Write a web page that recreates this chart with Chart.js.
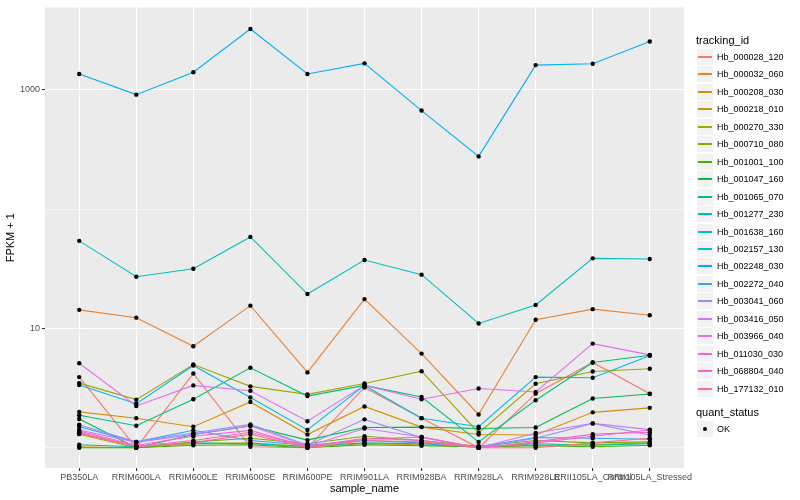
<!DOCTYPE html>
<html>
<head>
<meta charset="utf-8">
<script src="https://cdn.jsdelivr.net/npm/chart.js@4/dist/chart.umd.min.js"></script>
<style>
  body { margin: 0; background: #fff; font-family: "Liberation Sans", Arial, sans-serif; }
  #wrap { position: relative; width: 800px; height: 500px; }
  #chart { position: absolute; left: 0; top: 0; }
  #legend { position: absolute; left: 0; top: 0; width: 800px; height: 500px; color: #000; }
  .ltitle { position: absolute; left: 696px; font-size: 11px; line-height: 14px; }
  .key { position: absolute; left: 697px; width: 16px; height: 16px; background: #F2F2F2; }
  .key .ln { position: absolute; left: 1px; width: 14px; top: 7px; height: 2px; }
  .key .pt { position: absolute; left: 6px; top: 6px; width: 4px; height: 4px; border-radius: 2px; background: #000; }
  .lab { position: absolute; left: 717px; font-size: 9px; line-height: 12px; }
</style>
</head>
<body>
<div id="wrap">
  <canvas id="chart" width="800" height="500"></canvas>
  <div id="legend"></div>
</div>
<script>
document.addEventListener('DOMContentLoaded', function() {
    const samples = ['PB350LA', 'RRIM600LA', 'RRIM600LE', 'RRIM600SE', 'RRIM600PE', 'RRIM901LA',
        'RRIM928BA', 'RRIM928LA', 'RRIM928LE', 'RRII105LA_Control', 'RRII105LA_Stressed'];

    const trackingIds = ['Hb_000028_120', 'Hb_000032_060', 'Hb_000208_030', 'Hb_000218_010', 'Hb_000270_330',
        'Hb_000710_080', 'Hb_001001_100', 'Hb_001047_160', 'Hb_001065_070', 'Hb_001277_230',
        'Hb_001638_160', 'Hb_002157_130', 'Hb_002248_030', 'Hb_002272_040', 'Hb_003041_060',
        'Hb_003416_050', 'Hb_003966_040', 'Hb_011030_030', 'Hb_068804_040', 'Hb_177132_010'];

    const colors = ['#F8766D', '#EA8331', '#D89000', '#C09B00', '#A3A500', '#7CAE00', '#39B600', '#00BB4E',
        '#00BF7D', '#00C1A3', '#00BFC4', '#00BAE0', '#00B0F6', '#35A2FF', '#9590FF', '#C77CFF',
        '#E76BF3', '#FA62DB', '#FF62BC', '#FF6C91'];

    // FPKM + 1, one array per tracking_id, in sample order
    const hb000028 = [3.91, 1.0, 4.19, 1.02, 1.0, 3.2, 1.77, 1.0, 2.84, 5.18, 2.84];
    const hb000032 = [14.3, 12.3, 7.08, 15.5, 4.28, 17.6, 6.15, 1.9, 11.8, 14.5, 12.9];
    const hb000208 = [2.0, 1.77, 1.5, 2.42, 1.29, 2.22, 1.49, 1.29, 1.28, 1.98, 2.16];
    const hb000218 = [1.02, 1.0, 1.08, 1.1, 1.02, 1.08, 1.06, 1.01, 1.05, 1.06, 1.1];
    const hb000270 = [3.48, 2.53, 4.98, 3.27, 2.8, 3.46, 4.38, 1.33, 3.44, 4.36, 4.59];
    const hb000710 = [1.3, 1.0, 1.12, 1.2, 1.08, 1.25, 1.15, 1.03, 1.15, 1.1, 1.12];
    const hb001001 = [1.0, 1.0, 1.05, 1.06, 1.0, 1.06, 1.04, 1.02, 1.04, 1.02, 1.05];
    const hb001047 = [1.74, 1.0, 1.29, 1.52, 1.16, 1.48, 1.49, 1.45, 1.48, 2.59, 2.82];
    const hb001065 = [1.87, 1.53, 2.55, 4.68, 2.71, 3.33, 2.66, 1.12, 2.5, 5.18, 5.96];
    const hb001277 = [1.06, 1.02, 1.1, 1.08, 1.03, 1.1, 1.08, 1.02, 1.08, 1.05, 1.08];
    const hb001638 = [54.1, 27.1, 31.6, 58.4, 19.4, 37.4, 28.2, 11.0, 15.7, 38.6, 38.1];
    const hb002157 = [3.35, 2.34, 4.89, 2.64, 1.41, 3.33, 1.77, 1.5, 3.91, 3.86, 5.89];
    const hb002248 = [1352, 908, 1397, 3222, 1352, 1660, 668, 276, 1605, 1646, 2531];
    const hb002272 = [1.5, 1.12, 1.4, 1.15, 1.05, 1.15, 1.1, 1.02, 1.22, 1.2, 1.18];
    const hb003041 = [1.56, 1.12, 1.33, 1.57, 1.05, 1.73, 1.22, 1.0, 1.2, 1.6, 1.28];
    const hb003416 = [1.41, 1.11, 1.3, 1.53, 1.03, 1.45, 1.23, 1.0, 1.33, 1.6, 1.42];
    const hb003966 = [5.11, 2.24, 3.33, 3.0, 1.67, 3.33, 2.55, 3.14, 2.93, 7.46, 6.0];
    const hb011030 = [1.38, 1.05, 1.25, 1.4, 1.02, 1.2, 1.15, 1.0, 1.12, 1.3, 1.35];
    const hb068804 = [1.35, 1.03, 1.15, 1.35, 1.03, 1.18, 1.23, 1.0, 1.1, 1.25, 1.41];
    const hb177132 = [1.32, 1.02, 1.1, 1.3, 1.0, 1.15, 1.12, 1.0, 1.0, 1.1, 1.2];

    const seriesValues = [hb000028, hb000032, hb000208, hb000218, hb000270, hb000710, hb001001, hb001047,
        hb001065, hb001277, hb001638, hb002157, hb002248, hb002272, hb003041, hb003416,
        hb003966, hb011030, hb068804, hb177132];

    const yTicks = [1, 10, 100, 1000];
    const yLabels = ['', '10', '', '1000'];

    // grey panel like ggplot
    const panelBg = {
        id: 'panelBg',
        beforeDraw(chart) {
            const a = chart.chartArea;
            const ctx = chart.ctx;
            ctx.save();
            ctx.fillStyle = '#EBEBEB';
            ctx.fillRect(a.left, a.top, a.right - a.left, a.bottom - a.top);
            ctx.restore();
        }
    };

    const lineSets = seriesValues.map((vals, i) => ({
        label: trackingIds[i],
        data: vals.map((v, j) => ({ x: j, y: v })),
        borderColor: colors[i],
        backgroundColor: colors[i],
        borderWidth: 1.1,
        pointRadius: 0,
        showLine: true,
        order: 20 - i
    }));

    const pointSet = {
        label: 'OK',
        data: seriesValues.flatMap(vals => vals.map((v, j) => ({ x: j, y: v }))),
        showLine: false,
        pointRadius: 2.2,
        pointBackgroundColor: '#000',
        pointBorderWidth: 0,
        order: -1
    };

    new Chart(document.getElementById('chart').getContext('2d'), {
        type: 'scatter',
        data: { datasets: [pointSet].concat(lineSets) },
        options: {
            responsive: false,
            animation: false,
            layout: { padding: { top: 5, right: 116, left: 0, bottom: 0 } },
            plugins: { legend: { display: false }, tooltip: { enabled: false } },
            scales: {
                x: {
                    type: 'linear',
                    min: -0.6,
                    max: 10.6,
                    bounds: 'data',
                    afterBuildTicks: s => { s.ticks = samples.map((_, i) => ({ value: i })); },
                    afterFit: s => { s.height = 32; },
                    border: { display: false },
                    grid: { color: '#FFFFFF', lineWidth: 1.1, tickColor: '#333333', tickLength: 3 },
                    ticks: {
                        autoSkip: false, maxRotation: 0, padding: 1,
                        color: '#4D4D4D', font: { family: 'Liberation Sans', size: 9 },
                        callback: v => samples[v]
                    },
                    title: {
                        display: true, text: 'sample_name', color: '#000',
                        font: { family: 'Liberation Sans', size: 11 }, padding: { top: 0, bottom: 4 }
                    }
                },
                y: {
                    type: 'logarithmic',
                    min: 0.677,
                    max: 4885,
                    bounds: 'data',
                    afterBuildTicks: s => { s.ticks = yTicks.map(v => ({ value: v })); },
                    afterFit: s => { s.width = 45; },
                    border: { display: false },
                    grid: {
                        color: '#FFFFFF',
                        lineWidth: c => (c.tick && (c.tick.value === 10 || c.tick.value === 1000)) ? 1.1 : 0.55,
                        tickColor: c => (c.tick && (c.tick.value === 10 || c.tick.value === 1000)) ? '#333333' : 'rgba(0,0,0,0)',
                        tickLength: 3
                    },
                    ticks: {
                        padding: 2, color: '#4D4D4D', font: { family: 'Liberation Sans', size: 9 },
                        callback: v => yLabels[yTicks.indexOf(v)] || ''
                    },
                    title: {
                        display: true, text: 'FPKM + 1', color: '#000',
                        font: { family: 'Liberation Sans', size: 11 }, padding: { top: 4, bottom: 0 }
                    }
                }
            }
        },
        plugins: [panelBg]
    });

    // legend (ggplot style, on the right), rows placed on whole pixels
    const legend = document.getElementById('legend');
    let html = '<div class="ltitle" style="top:33px">tracking_id</div>';
    trackingIds.forEach((id, i) => {
        const cy = Math.round(57 + i * 17.45);
        html += `<div class="key" style="top:${cy - 8}px"><div class="ln" style="background:${colors[i]}"></div></div>`;
        html += `<span class="lab" style="top:${cy - 6}px">${id}</span>`;
    });
    html += '<div class="ltitle" style="top:405px">quant_status</div>';
    html += '<div class="key" style="top:421px"><div class="pt"></div></div>';
    html += '<span class="lab" style="top:423px">OK</span>';
    legend.innerHTML = html;
});
</script>
</body>
</html>
